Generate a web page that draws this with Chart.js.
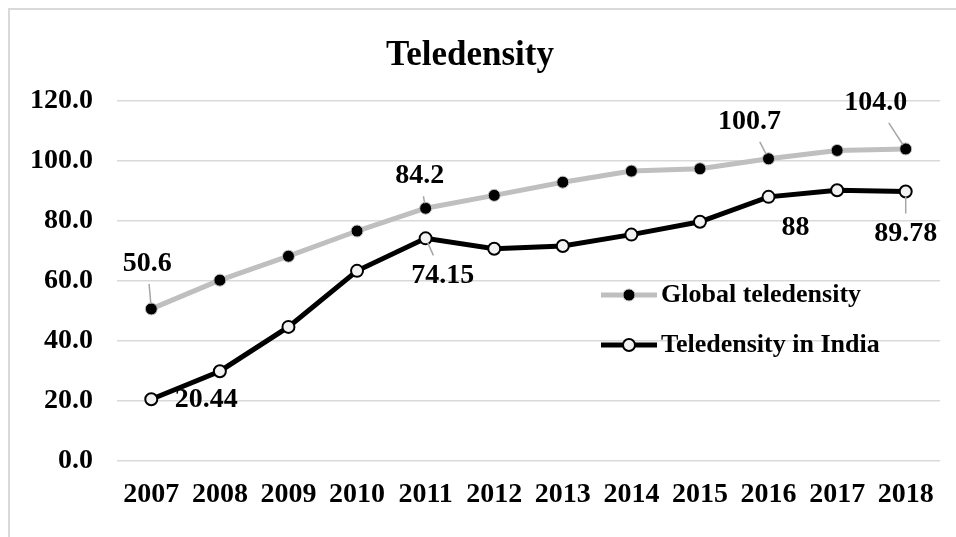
<!DOCTYPE html>
<html>
<head>
<meta charset="utf-8">
<title>Teledensity</title>
<script src="https://cdn.jsdelivr.net/npm/chart.js@4.4.1/dist/chart.umd.min.js"></script>
<style>
  html, body { margin: 0; padding: 0; background: #ffffff; overflow: hidden; }
  #wrap { position: relative; width: 956px; height: 537px; }
  #frame {
    position: absolute; left: 8px; top: 8px; width: 1000px; height: 600px;
    border: 2px solid #d9d9d9; box-sizing: border-box; pointer-events: none;
  }
  canvas { position: absolute; left: 0; top: 0; }
</style>
</head>
<body>
<div id="wrap">
  <div id="frame"></div>
  <canvas id="chart" width="956" height="537"></canvas>
</div>
<script>
// Years on the category axis
const years = ['2007', '2008', '2009', '2010', '2011', '2012', '2013', '2014', '2015', '2016', '2017', '2018'];

// Telephone subscriptions per 100 people
const globalTeledensity = [50.6, 60.2, 68.2, 76.6, 84.2, 88.5, 92.9, 96.6, 97.4, 100.7, 103.5, 104.0];
const indiaTeledensity  = [20.44, 29.8, 44.6, 63.3, 74.15, 70.7, 71.6, 75.4, 79.7, 88, 90.2, 89.78];

// Value axis ticks
const yTicks = [0, 20, 40, 60, 80, 100, 120];

// Points that carry a value label
const globalLabelIdx = [0, 4, 9, 11];
const indiaLabelIdx  = [0, 4, 9, 11];

const FONT = '"Liberation Serif", "Times New Roman", Times, serif';

// Where each value label sits relative to its point (pixels) and whether a leader line joins them
const labelPlacement = {
  0: { 0: { dx: -4, dy: -45, leader: true },  4: { dx: -6, dy: -32, leader: true },
       9: { dx: -19, dy: -37, leader: true }, 11: { dx: -30, dy: -46, leader: true } },
  1: { 0: { dx: 55, dy: 1, leader: false },   4: { dx: 17, dy: 37, leader: true },
       9: { dx: 27, dy: 31, leader: false },  11: { dx: 0, dy: 42, leader: true } }
};

const valueLabels = {
  id: 'valueLabels',
  afterDatasetsDraw(chart) {
    const ctx = chart.ctx;
    ctx.save();
    ctx.font = 'bold 28px ' + FONT;
    ctx.textAlign = 'center';
    ctx.textBaseline = 'middle';
    chart.data.datasets.forEach((ds, di) => {
      const meta = chart.getDatasetMeta(di);
      const idxs = di === 0 ? globalLabelIdx : indiaLabelIdx;
      idxs.forEach(i => {
        const pt = meta.data[i];
        const place = labelPlacement[di][i];
        const v = ds.data[i];
        const text = di === 0 ? v.toFixed(1) : String(v);
        const cx = pt.x + place.dx, cy = pt.y + place.dy;
        if (place.leader) {
          const w = ctx.measureText(text).width;
          const hw = w / 2 + 6, hh = 20;
          const dx = cx - pt.x, dy = cy - pt.y;
          const len = Math.hypot(dx, dy);
          const s = Math.min(Math.abs(dx) > 0.01 ? hw / Math.abs(dx) : Infinity,
                             Math.abs(dy) > 0.01 ? hh / Math.abs(dy) : Infinity);
          const tEnd = 1 - s, tStart = 5 / len;
          if (tEnd > tStart) {
            ctx.beginPath();
            ctx.strokeStyle = '#a6a6a6';
            ctx.lineWidth = 1.5;
            ctx.moveTo(pt.x + dx * tStart, pt.y + dy * tStart);
            ctx.lineTo(pt.x + dx * tEnd, pt.y + dy * tEnd);
            ctx.stroke();
          }
        }
        ctx.fillStyle = '#000000';
        ctx.fillText(text, cx, cy);
      });
    });
    ctx.restore();
  }
};

// Legend drawn inside the plot, to the right of centre
const insideLegend = {
  id: 'insideLegend',
  afterDraw(chart) {
    const ctx = chart.ctx;
    const area = chart.chartArea;
    const x0 = area.left + 484, rows = [295, 345];
    ctx.save();
    chart.data.datasets.forEach((ds, di) => {
      const y = rows[di];
      ctx.beginPath();
      ctx.strokeStyle = ds.borderColor;
      ctx.lineWidth = ds.borderWidth;
      ctx.moveTo(x0, y);
      ctx.lineTo(x0 + 56, y);
      ctx.stroke();
      ctx.beginPath();
      ctx.arc(x0 + 28, y, ds.pointRadius, 0, Math.PI * 2);
      ctx.fillStyle = ds.pointBackgroundColor;
      ctx.fill();
      ctx.lineWidth = ds.pointBorderWidth;
      ctx.strokeStyle = ds.pointBorderColor;
      ctx.stroke();
      ctx.fillStyle = '#000000';
      ctx.font = 'bold 26px ' + FONT;
      ctx.textAlign = 'left';
      ctx.textBaseline = 'middle';
      ctx.fillText(ds.label, x0 + 60, y);
    });
    ctx.restore();
  }
};

new Chart(document.getElementById('chart'), {
  type: 'line',
  data: {
    labels: years,
    datasets: [
      {
        label: 'Global teledensity',
        data: globalTeledensity,
        borderColor: '#bfbfbf',
        borderWidth: 5,
        pointRadius: 6,
        pointBackgroundColor: '#000000',
        pointBorderColor: '#bfbfbf',
        pointBorderWidth: 1,
        tension: 0
      },
      {
        label: 'Teledensity in India',
        data: indiaTeledensity,
        borderColor: '#000000',
        borderWidth: 5,
        pointRadius: 6,
        pointBackgroundColor: '#f2f2f2',
        pointBorderColor: '#000000',
        pointBorderWidth: 2,
        tension: 0
      }
    ]
  },
  options: {
    responsive: false,
    animation: false,
    devicePixelRatio: 1,
    layout: { padding: { left: 0, right: 16, top: 0, bottom: 0 } },
    plugins: {
      legend: { display: false },
      tooltip: { enabled: false },
      title: {
        display: true,
        text: 'Teledensity',
        color: '#000000',
        font: { family: FONT, size: 35, weight: 'bold' },
        padding: { top: 35, bottom: 24 }
      }
    },
    scales: {
      x: {
        offset: true,
        grid: { display: false, drawTicks: false },
        border: { display: false },
        ticks: {
          color: '#000000',
          padding: 17,
          maxRotation: 0,
          autoSkip: false,
          font: { family: FONT, size: 28, weight: 'bold' }
        },
        afterFit(scale) { scale.height = 76.5; }
      },
      y: {
        min: 0,
        max: 120,
        afterBuildTicks(scale) { scale.ticks = yTicks.map(v => ({ value: v })); },
        grid: { color: '#d9d9d9', lineWidth: 1.5, drawTicks: false },
        border: { display: false },
        ticks: {
          color: '#000000',
          padding: 24,
          font: { family: FONT, size: 28, weight: 'bold' },
          callback: v => Number(v).toFixed(1)
        },
        afterFit(scale) { scale.width = 117; }
      }
    }
  },
  plugins: [valueLabels, insideLegend]
});
</script>
</body>
</html>
